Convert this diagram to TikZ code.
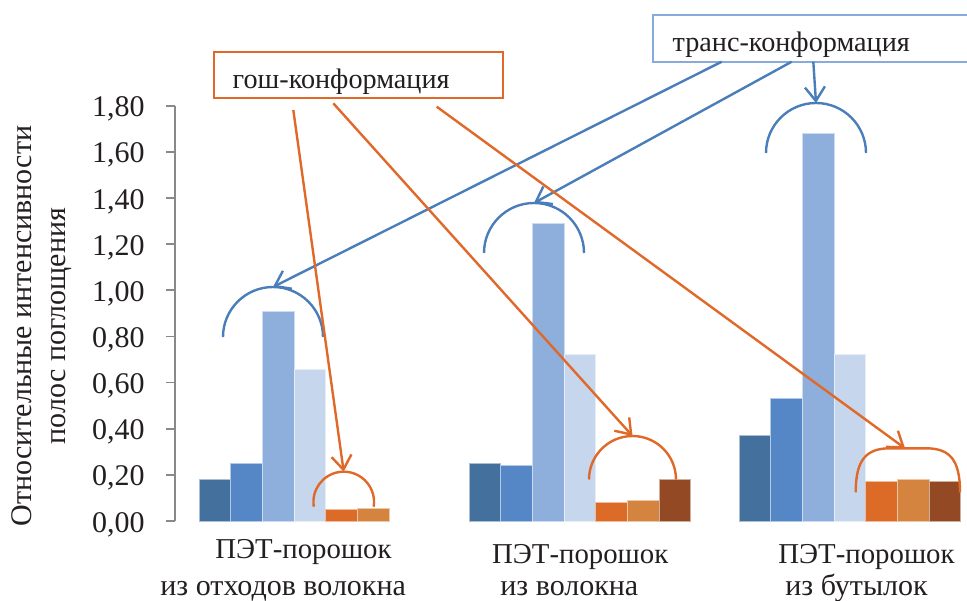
\documentclass[tikz,border=0pt]{standalone}
\usepackage{fontspec}
\setmainfont{Liberation Serif}
\usetikzlibrary{arrows.meta}
\definecolor{chink}{HTML}{231F20}
\definecolor{chaxis}{HTML}{898989}
\definecolor{chblue}{HTML}{4A7EBB}
\definecolor{chorange}{HTML}{E0692A}
\definecolor{chtransbox}{HTML}{86ABDC}
\definecolor{chbar1}{HTML}{44709E}
\definecolor{chbar2}{HTML}{5587C6}
\definecolor{chbar3}{HTML}{8EAFDB}
\definecolor{chbar4}{HTML}{C5D6ED}
\definecolor{chbar5}{HTML}{DC6B27}
\definecolor{chbar6}{HTML}{D5843F}
\definecolor{chbar7}{HTML}{934A24}
\tikzset{
  ch text/.style={font=\fontsize{15}{17}\selectfont, text=chink},
  ch axis/.style={draw=chaxis, line width=0.8pt},
  ch bar/.style={line width=0.5pt},
  ch arc/.style={line width=1.2pt},
  ch arrow/.style={-{Straight Barb[length=7pt,width=10pt]}, line width=1.2pt},
  ch box/.style={line width=1pt, fill=white, inner ysep=0pt, align=left,
    anchor=base west, font=\fontsize{14.1}{17}\selectfont},
  ch tick/.style={anchor=base east, inner sep=0pt},
  ch label/.style={anchor=base west, inner sep=0pt},
  ch head/.style={ch label, font=\fontsize{14.4}{17}\selectfont}
}

\begin{document}
\begin{tikzpicture}[ch text, x=0.5pt, y=0.5pt]
  \useasboundingbox (0,0) rectangle (967,600);
  % value axis
  \draw[ch axis] (175,79) -- (175,494.3);
  \foreach \i/\lab in {0/{0,00},1/{0,20},2/{0,40},3/{0,60},4/{0,80},5/{1,00},6/{1,20},7/{1,40},8/{1,60},9/{1,80}} {
    \draw[ch axis] (166,{79+46.14*\i}) -- (175,{79+46.14*\i});
    \node[ch tick] (tick\i) at (145,{68+46.14*\i}) {\lab};
  }
  \node[rotate=90, align=center] (ytitle) at (42,274)
    {Относительные интенсивности\\полос поглощения};

  % bars, one group per powder
  \foreach \k/\vals in {0/{0.18,0.25,0.91,0.655,0.05,0.055},
      1/{0.25,0.24,1.29,0.72,0.08,0.09,0.18},
      2/{0.37,0.53,1.68,0.72,0.17,0.18,0.17}} {
    \foreach \v [count=\j] in \vals {
      \draw[ch bar, fill=chbar\j, draw=chbar\j!45!white]
        ({199+270*\k+31.7*(\j-1)},79) rectangle ++(31.7,{230.7*\v});
    }
  }

  % group labels
  \node[ch head] (lab1a) at (215,42) {ПЭТ-порошок};
  \node[ch label] (lab1b) at (160,5) {из отходов волокна};
  \node[ch head] (lab2a) at (491.7,37) {ПЭТ-порошок};
  \node[ch label] (lab2b) at (500,5) {из волокна};
  \node[ch head] (lab3a) at (778,37) {ПЭТ-порошок};
  \node[ch label] (lab3b) at (785,5) {из бутылок};

  % brackets over the bands
  \draw[ch arc, chblue] (223,263) arc[start angle=180, end angle=0, radius=50];
  \draw[ch arc, chblue] (484,347) arc[start angle=180, end angle=0, radius=50];
  \draw[ch arc, chblue] (766,447) arc[start angle=180, end angle=0, radius=50];
  \draw[ch arc, chorange] (313.8,93.3) arc[start angle=189, end angle=-9, radius=30.3];
  \draw[ch arc, chorange] (589,120.5) arc[start angle=180, end angle=0, radius=43.5];
  \draw[ch arc, chorange] (855.7,107.7) .. controls (855.7,140) and (866,151.7) .. (890,151.7)
    -- (926,151.7) .. controls (950,151.7) and (960,140) .. (960,107.7);
  \coordinate (blue1) at (273,313);
  \coordinate (blue2) at (534,397);
  \coordinate (blue3) at (816,497);
  \coordinate (orange1) at (343.7,128.3);
  \coordinate (orange2) at (632.5,164);
  \coordinate (orange3) at (905,151.7);

  % captions
  \node[ch box, draw=chtransbox, text width=149pt, inner xsep=10pt,
    text height=18.3pt, text depth=5pt] (trans) at (651.7,548.3) {транс-конформация};
  \node[ch box, draw=chorange, text width=125.5pt, inner xsep=9.5pt,
    text height=18.3pt, text depth=4.7pt] (gosh) at (212.7,511.7) {гош-конформация};
  \coordinate (trans1) at (721.7,538.3);
  \coordinate (trans2) at (791.7,538.3);
  \coordinate (trans3) at (813.3,538.3);
  \coordinate (gosh1) at (293.3,490);
  \coordinate (gosh2) at (333.3,496.7);
  \coordinate (gosh3) at (436.7,493.3);

  \draw[ch arrow, draw=chblue] (trans1) -- (blue1);
  \draw[ch arrow, draw=chblue] (trans2) -- (blue2);
  \draw[ch arrow, draw=chblue] (trans3) -- (blue3);
  \draw[ch arrow, draw=chorange] (gosh1) -- (orange1);
  \draw[ch arrow, draw=chorange] (gosh2) -- (orange2);
  \draw[ch arrow, draw=chorange] (gosh3) -- (orange3);
\end{tikzpicture}
\end{document}
